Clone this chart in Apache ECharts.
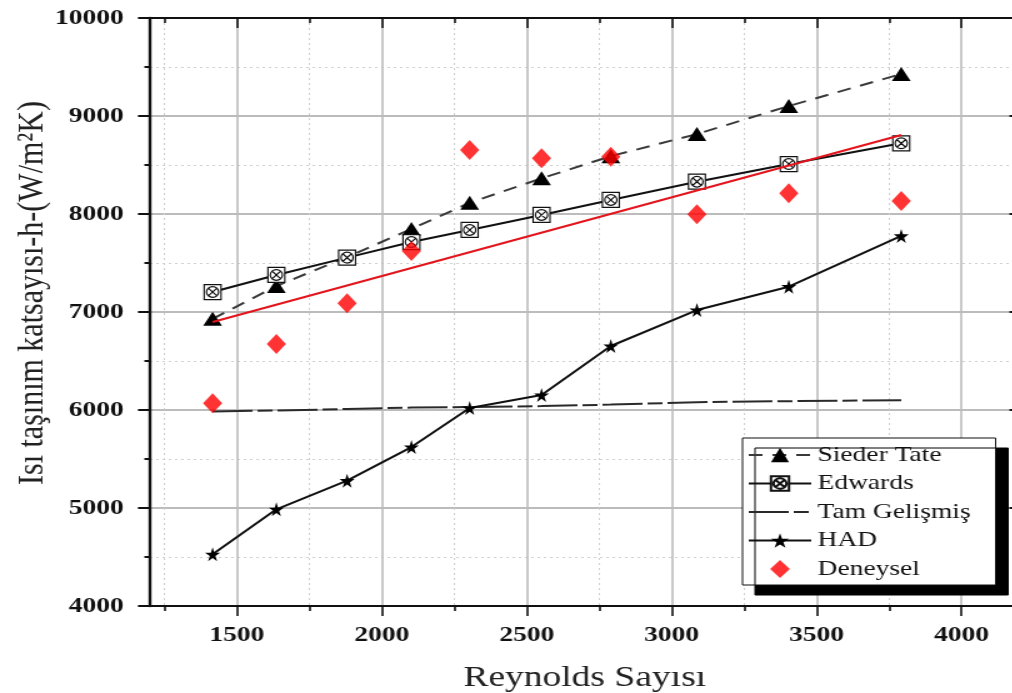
<!DOCTYPE html>
<html><head><meta charset="utf-8">
<script src="https://cdn.jsdelivr.net/npm/echarts@6/dist/echarts.min.js"></script>
<style>
html,body{margin:0;padding:0;width:1012px;height:693px;overflow:hidden;background:#fff;}
#chart{width:830px;height:693px;transform:scaleX(1.25);transform-origin:0 0;}
</style></head><body><div id="chart"></div>
<script>
// ---- data ----
const reynolds    = [1416, 1636, 1880, 2102, 2303, 2551, 2790, 3087, 3404, 3792];
const siederTate  = [6930, 7265, 7561, 7847, 8115, 8364, 8590, 8816, 9102, 9429];
const edwards     = [7204, 7378, 7555, 7714, 7837, 7990, 8143, 8330, 8510, 8721];
const tamGelismis = [5985, 5995, 6010, 6025, 6030, 6040, 6055, 6080, 6090, 6100];
const had         = [4528, 4987, 5279, 5622, 6020, 6153, 6653, 7020, 7258, 7776];
const deneysel    = [6068, 6673, 7089, 7622, 8653, 8568, 8585, 7997, 8211, 8133];
const fitX = [1416, 3792];
const fitY = [6898, 8806];
const xMajorTicks = [1500, 2000, 2500, 3000, 3500, 4000];
const xMinorTicks = [1250, 1750, 2250, 2750, 3250, 3750];

const zip = (xs, ys) => xs.map((x, i) => [x, ys[i]]);
const FONT = "'Liberation Serif', 'DejaVu Serif', serif";
const starPath = 'path://M50,0 L61,35 L98,35 L68,57 L79,91 L50,70 L21,91 L32,57 L2,35 L39,35 Z';
const edwardsPath = 'path://M0,0 L100,0 L100,100 L0,100 Z M50,14 A36,36 0 1,1 49.9,14 Z M24,24 L76,76 M76,24 L24,76';
const diamondPath = 'path://M50,0 L100,57 L50,114 L0,57 Z';
const plain = v => String(v);

const chart = echarts.init(document.getElementById('chart'), null, {renderer: 'canvas'});
const axisColor = '#111';
const majorGrid = {show: true, lineStyle: {color: '#bcbcbc', width: 1.6}};
const minorGrid = {show: true, lineStyle: {color: '#cfcfcf', width: 1, type: [2, 3]}};

chart.setOption({
  animation: false,
  backgroundColor: '#fff',
  grid: {left: 120, right: 14.4, top: 18, bottom: 87, containLabel: false, outerBoundsMode: 'none'},
  legend: {
    data: [
      {name: 'Sieder Tate'},
      {name: 'Edwards'},
      {name: 'Tam Gelişmiş', itemStyle: {color: 'rgba(0,0,0,0)', borderWidth: 0, opacity: 0}},
      {name: 'HAD'},
      {name: 'Deneysel'}
    ],
    orient: 'vertical', left: 594, top: 438,
    itemWidth: 50, itemHeight: 18, itemGap: 6.5,
    padding: [6, 20, 5, 4],
    backgroundColor: '#fff', borderColor: '#111', borderWidth: 1,
    shadowColor: '#000', shadowBlur: 0, shadowOffsetX: 10, shadowOffsetY: 10,
    textStyle: {fontFamily: FONT, fontSize: 22, color: '#111'},
    selectedMode: false
  },
  xAxis: [
    {
      type: 'value', min: 1200, max: 4200, position: 'bottom',
      name: 'Reynolds Sayısı', nameLocation: 'middle', nameGap: 72, nameMoveOverlap: false,
      nameTextStyle: {fontFamily: FONT, fontSize: 30, color: '#222', verticalAlign: 'middle'},
      axisLine: {show: true, onZero: false, lineStyle: {color: axisColor, width: 2}},
      axisTick: {show: true, inside: false, length: 10, customValues: xMajorTicks, lineStyle: {color: axisColor, width: 1.6}},
      axisLabel: {customValues: xMajorTicks, formatter: plain, margin: 18, fontFamily: FONT, fontWeight: 'bold', fontSize: 22, color: '#111'},
      splitLine: majorGrid
    },
    {
      type: 'value', min: 1200, max: 4200, position: 'bottom',
      axisLine: {show: false, onZero: false},
      axisTick: {show: true, inside: false, length: 5, customValues: xMinorTicks, lineStyle: {color: axisColor, width: 1.6}},
      axisLabel: {show: false},
      splitLine: minorGrid
    },
    {
      type: 'value', min: 1200, max: 4200, position: 'top',
      axisLine: {show: true, onZero: false, lineStyle: {color: axisColor, width: 2}},
      axisTick: {show: true, inside: true, length: 10, customValues: xMajorTicks, lineStyle: {color: axisColor, width: 1.6}},
      axisLabel: {show: false},
      splitLine: {show: false}
    },
    {
      type: 'value', min: 1200, max: 4200, position: 'top',
      axisLine: {show: false, onZero: false},
      axisTick: {show: true, inside: true, length: 5, customValues: xMinorTicks, lineStyle: {color: axisColor, width: 1.6}},
      axisLabel: {show: false},
      splitLine: {show: false}
    }
  ],
  yAxis: [
    {
      type: 'value', min: 4000, max: 10000, interval: 1000, position: 'left',
      name: 'Isı taşınım katsayısı-h-(W/m²K)', nameLocation: 'middle', nameGap: 94, nameMoveOverlap: false,
      nameTextStyle: {fontFamily: FONT, fontSize: 30, color: '#222', verticalAlign: 'middle', padding: [0, 0, 0, 38]},
      axisLine: {show: true, onZero: false, lineStyle: {color: axisColor, width: 2.4}},
      axisTick: {show: true, inside: false, length: 9.6, lineStyle: {color: axisColor, width: 2}},
      minorTick: {show: true, splitNumber: 2, length: 4.5, lineStyle: {color: axisColor, width: 2}},
      axisLabel: {formatter: plain, margin: 21, fontFamily: FONT, fontWeight: 'bold', fontSize: 22, color: '#111'},
      splitLine: {show: true, lineStyle: {color: '#bcbcbc', width: 2}},
      minorSplitLine: minorGrid
    },
    {
      type: 'value', min: 4000, max: 10000, interval: 1000, position: 'right',
      axisLine: {show: true, onZero: false, lineStyle: {color: axisColor, width: 2}},
      axisTick: {show: true, inside: true, length: 8, lineStyle: {color: axisColor, width: 2}},
      minorTick: {show: true, splitNumber: 2, length: 4, lineStyle: {color: axisColor, width: 2}},
      axisLabel: {show: false},
      splitLine: {show: false}
    }
  ],
  series: [
    {
      name: 'Tam Gelişmiş', type: 'line', data: zip(reynolds, tamGelismis),
      symbol: 'none', z: 2,
      itemStyle: {color: '#2a2a2a'},
      lineStyle: {color: '#2a2a2a', width: 2, type: [32, 4, 12, 4]}
    },
    {
      name: 'Sieder Tate', type: 'line', data: zip(reynolds, siederTate),
      symbol: 'triangle', symbolSize: [15, 14], z: 3,
      itemStyle: {color: '#000'},
      lineStyle: {color: '#3a3a3a', width: 2, type: [11, 8]}
    },
    {
      name: 'HAD', type: 'line', data: zip(reynolds, had),
      symbol: starPath, symbolSize: [12, 14], z: 3,
      itemStyle: {color: '#000'},
      lineStyle: {color: '#111', width: 2}
    },
    {
      name: 'Edwards', type: 'line', data: zip(reynolds, edwards),
      symbol: edwardsPath, symbolSize: [13.5, 15], z: 3,
      itemStyle: {color: '#fff', borderColor: '#111', borderWidth: 1.2},
      lineStyle: {color: '#111', width: 2}
    },
    {
      name: 'Doğrusal uyum', type: 'line', data: zip(fitX, fitY),
      symbol: 'none', z: 4,
      itemStyle: {color: '#e3141c'},
      lineStyle: {color: '#e3141c', width: 2}
    },
    {
      name: 'Deneysel', type: 'scatter', data: zip(reynolds, deneysel),
      symbol: diamondPath, symbolKeepAspect: true, symbolSize: [17.5, 20], z: 5,
      itemStyle: {color: '#ff0000'}
    }
  ]
});
</script></body></html>
